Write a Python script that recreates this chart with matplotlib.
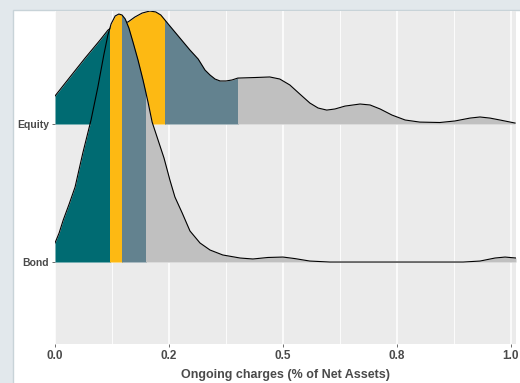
import numpy as np
import matplotlib
matplotlib.use("Agg")
import matplotlib.pyplot as plt
from matplotlib.patches import Rectangle

# ridge categories (bottom to top)
groups = ["Bond", "Equity"]

# density heights (1.0 = gap between ridges)
equity_x = [0.0, 0.033, 0.066, 0.099, 0.116, 0.132, 0.147, 0.160, 0.175, 0.191,
            0.208, 0.221, 0.232, 0.241, 0.252, 0.274, 0.296, 0.314, 0.329, 0.340,
            0.351, 0.362, 0.375, 0.388, 0.401, 0.439, 0.471, 0.493, 0.515, 0.537,
            0.559, 0.577, 0.596, 0.614, 0.636, 0.669, 0.691, 0.713, 0.739, 0.768,
            0.800, 0.844, 0.877, 0.910, 0.932, 0.954, 0.976, 1.009]
equity_h = [0.203, 0.341, 0.478, 0.609, 0.680, 0.720, 0.735, 0.739, 0.775, 0.804,
            0.819, 0.812, 0.790, 0.754, 0.710, 0.623, 0.536, 0.471, 0.391, 0.355,
            0.326, 0.312, 0.312, 0.319, 0.333, 0.337, 0.341, 0.326, 0.283, 0.217,
            0.152, 0.116, 0.101, 0.109, 0.130, 0.145, 0.138, 0.109, 0.065, 0.029,
            0.014, 0.011, 0.022, 0.043, 0.051, 0.043, 0.029, 0.007]

bond_x = [0.0, 0.009, 0.018, 0.031, 0.044, 0.061, 0.079, 0.094, 0.107, 0.116,
          0.123, 0.132, 0.140, 0.147, 0.154, 0.162, 0.171, 0.182, 0.193, 0.204,
          0.213, 0.226, 0.239, 0.252, 0.263, 0.279, 0.296, 0.318, 0.340, 0.368,
          0.406, 0.434, 0.467, 0.500, 0.526, 0.559, 0.603, 0.895, 0.932, 0.965,
          0.987, 1.011]
bond_h = [0.138, 0.210, 0.304, 0.420, 0.543, 0.790, 1.029, 1.268, 1.500, 1.645,
          1.725, 1.783, 1.797, 1.790, 1.761, 1.696, 1.594, 1.464, 1.319, 1.159,
          1.014, 0.884, 0.754, 0.594, 0.471, 0.355, 0.225, 0.138, 0.087, 0.051,
          0.029, 0.022, 0.033, 0.036, 0.025, 0.007, 0.0, 0.0, 0.007, 0.029,
          0.036, 0.029]

# quantile breaks for the fills
equity_q = [0.0, 0.12, 0.241, 0.401, 1.05]
bond_q = [0.0, 0.121, 0.148, 0.200, 1.05]

fill_cols = ["#006b72", "#fdb913", "#63828f", "#c0c0c0"]

xticks = [0.0, 0.25, 0.5, 0.75, 1.0]
xticklabels = ["0.0", "0.2", "0.5", "0.8", "1.0"]

plt.rcParams["font.family"] = ["Liberation Sans", "DejaVu Sans"]

fig = plt.figure(figsize=(5.2, 3.83), dpi=100, facecolor="#e2e8ec")
card = Rectangle((13 / 520, -0.01), 1.0, 1 - 10 / 383 + 0.01, transform=fig.transFigure,
                 facecolor="white", edgecolor="#c8d3d8", linewidth=1.0, zorder=-10)
fig.patches.append(card)

ax = fig.add_axes([55 / 520, 39 / 383, 461 / 520, 333 / 383])
ax.set_facecolor("#ebebeb")
ax.set_xlim(0, 1.011)
ax.set_ylim(0.406, 2.819)

ax.set_xticks(xticks)
ax.set_xticklabels(xticklabels)
ax.set_xticks([0.125, 0.375, 0.625, 0.875], minor=True)
ax.set_yticks([1, 2])
ax.set_yticklabels(groups)
ax.grid(True, which="major", color="white", linewidth=1.1, zorder=0)
ax.grid(True, which="minor", axis="x", color="white", linewidth=0.6, zorder=0)
ax.set_axisbelow(True)
for s in ax.spines.values():
    s.set_visible(False)

ax.tick_params(axis="both", which="major", length=2.5, width=0.6, color="#555555",
               labelcolor="#4a4a4a", pad=2)
ax.tick_params(axis="both", which="minor", length=0)
for lbl in ax.get_xticklabels():
    lbl.set_fontsize(8.5)
    lbl.set_fontweight("bold")
for lbl in ax.get_yticklabels():
    lbl.set_fontsize(7.5)
    lbl.set_fontweight("bold")

ax.set_xlabel("Ongoing charges (% of Net Assets)", fontsize=9, fontweight="bold",
              color="#4a4a4a", labelpad=5)

# top ridge first, lower ridge drawn over it
ridges = [(2, equity_x, equity_h, equity_q), (1, bond_x, bond_h, bond_q)]
z = 2
for base, xs, hs, qs in ridges:
    xs = np.array(xs)
    top = base + np.array(hs)
    for i, col in enumerate(fill_cols):
        poly = ax.fill_between(xs, base, top, color=col, linewidth=0, zorder=z)
        clip = Rectangle((qs[i], 0), qs[i + 1] - qs[i], 4, transform=ax.transData)
        poly.set_clip_path(clip)
    ax.plot(xs, top, color="black", linewidth=0.8, zorder=z + 1)
    z += 2

fig.savefig("out.png", dpi=100, facecolor=fig.get_facecolor())
